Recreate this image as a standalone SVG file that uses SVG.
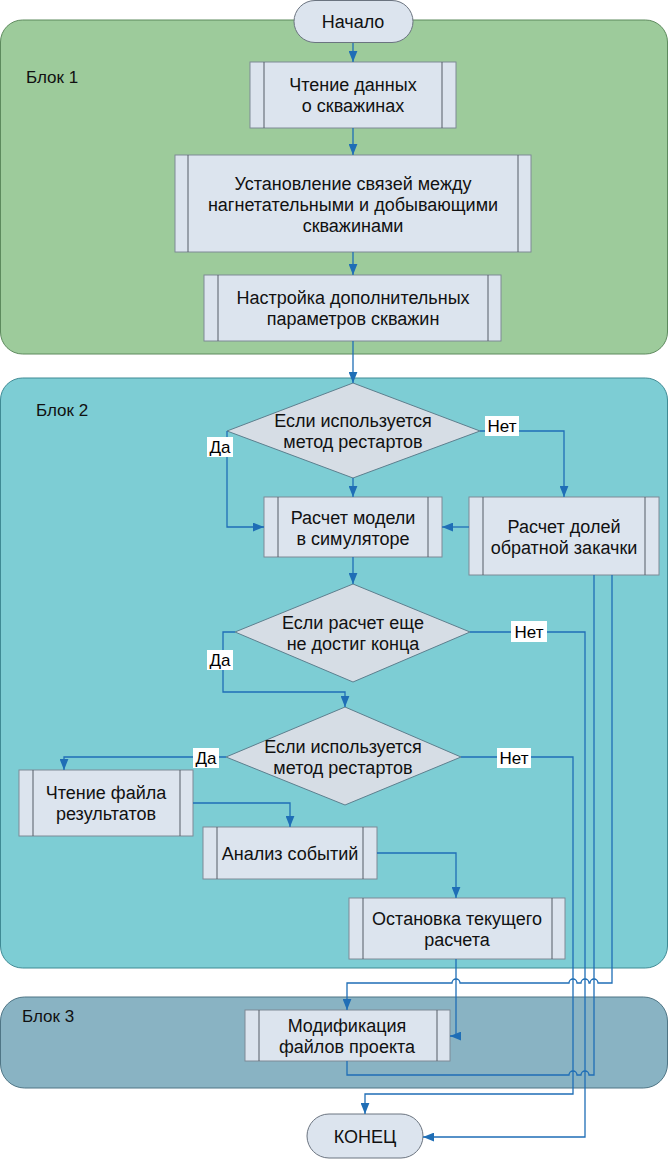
<svg xmlns="http://www.w3.org/2000/svg" width="669" height="1159" viewBox="0 0 669 1159">
<style>
.t{font-family:"Liberation Sans",Arial,sans-serif;font-size:18px;fill:#111;text-anchor:middle}
.bl{font-family:"Liberation Sans",Arial,sans-serif;font-size:17px;fill:#111}
.lb{font-family:"Liberation Sans",Arial,sans-serif;font-size:17px;fill:#000;text-anchor:middle}
.box{fill:#dce4ee;stroke:#7f8a96;stroke-width:1}
.in{stroke:#555d66;stroke-width:1}
.dia{fill:#d6dde5;stroke:#5d7f8e;stroke-width:1}
.term{fill:#dce4ee;stroke:#6b7480;stroke-width:1}
.c{fill:none;stroke:#1f6eb6;stroke-width:1.3}
.lbg{fill:#fff}
</style>
<defs>
<marker id="ah" viewBox="0 0 10 8" refX="10" refY="4" markerWidth="11" markerHeight="9" markerUnits="userSpaceOnUse" orient="auto">
<path d="M0,0 L10,4 L0,8 z" fill="#1f6eb6"/>
</marker>
</defs>

<g id="block1">
<rect x="0.5" y="20" width="667" height="334" rx="22" fill="#9dcb9b" stroke="#5d8a5d"/>
<text class="bl" x="26" y="83">Блок 1</text>
</g>
<g id="block2">
<rect x="0.5" y="378" width="667" height="590" rx="22" fill="#7dcdd4" stroke="#3f8a94"/>
<text class="bl" x="36" y="416">Блок 2</text>
</g>
<g id="block3">
<rect x="0.5" y="997" width="667" height="91" rx="24" fill="#89b3c3" stroke="#4f7585"/>
<text class="bl" x="22" y="1022">Блок 3</text>
</g>

<g id="start">
<rect class="term" x="294" y="0.5" width="119" height="42" rx="21"/>
<text class="t" x="353" y="28">Начало</text>
</g>
<g id="read_wells">
<rect class="box" x="250" y="62" width="206" height="66"/>
<line class="in" x1="264" y1="62" x2="264" y2="128"/><line class="in" x1="442" y1="62" x2="442" y2="128"/>
<text class="t" x="353" y="91">Чтение данных</text>
<text class="t" x="353" y="112">о скважинах</text>
</g>
<g id="links">
<rect class="box" x="175" y="155" width="356" height="97"/>
<line class="in" x1="188" y1="155" x2="188" y2="252"/><line class="in" x1="518" y1="155" x2="518" y2="252"/>
<text class="t" x="353" y="190">Установление связей между</text>
<text class="t" x="353" y="211">нагнетательными и добывающими</text>
<text class="t" x="353" y="232">скважинами</text>
</g>
<g id="params">
<rect class="box" x="204" y="275" width="297" height="66"/>
<line class="in" x1="218" y1="275" x2="218" y2="341"/><line class="in" x1="488" y1="275" x2="488" y2="341"/>
<text class="t" x="353" y="304">Настройка дополнительных</text>
<text class="t" x="353" y="325">параметров скважин</text>
</g>
<g id="dec1">
<polygon class="dia" points="353,383 480,431 353,478 227,431"/>
<text class="t" x="353" y="427">Если используется</text>
<text class="t" x="353" y="448">метод рестартов</text>
</g>
<g id="simulate">
<rect class="box" x="264" y="497" width="178" height="60"/>
<line class="in" x1="278" y1="497" x2="278" y2="557"/><line class="in" x1="428" y1="497" x2="428" y2="557"/>
<text class="t" x="353" y="524">Расчет модели</text>
<text class="t" x="353" y="545">в симуляторе</text>
</g>
<g id="fractions">
<rect class="box" x="469" y="497" width="190" height="78"/>
<line class="in" x1="483" y1="497" x2="483" y2="575"/><line class="in" x1="645" y1="497" x2="645" y2="575"/>
<text class="t" x="564" y="533">Расчет долей</text>
<text class="t" x="564" y="554">обратной закачки</text>
</g>
<g id="dec2">
<polygon class="dia" points="353,584 470,632 353,682 235,632"/>
<text class="t" x="353" y="629">Если расчет еще</text>
<text class="t" x="353" y="650">не достиг конца</text>
</g>
<g id="dec3">
<polygon class="dia" points="345,707 461,757 345,805 226,757"/>
<text class="t" x="343" y="753">Если используется</text>
<text class="t" x="343" y="774">метод рестартов</text>
</g>
<g id="readres">
<rect class="box" x="19" y="770" width="174" height="66"/>
<line class="in" x1="33" y1="770" x2="33" y2="836"/><line class="in" x1="180" y1="770" x2="180" y2="836"/>
<text class="t" x="106" y="799">Чтение файла</text>
<text class="t" x="106" y="820">результатов</text>
</g>
<g id="analysis">
<rect class="box" x="203" y="827" width="174" height="52"/>
<line class="in" x1="217" y1="827" x2="217" y2="879"/><line class="in" x1="363" y1="827" x2="363" y2="879"/>
<text class="t" x="290" y="860">Анализ событий</text>
</g>
<g id="stop">
<rect class="box" x="349" y="898" width="216" height="61"/>
<line class="in" x1="363" y1="898" x2="363" y2="959"/><line class="in" x1="552" y1="898" x2="552" y2="959"/>
<text class="t" x="457" y="925">Остановка текущего</text>
<text class="t" x="457" y="946">расчета</text>
</g>
<g id="modify">
<rect class="box" x="245" y="1010" width="205" height="51"/>
<line class="in" x1="259" y1="1010" x2="259" y2="1061"/><line class="in" x1="437" y1="1010" x2="437" y2="1061"/>
<text class="t" x="347" y="1032">Модификация</text>
<text class="t" x="347" y="1053">файлов проекта</text>
</g>
<g id="end">
<rect class="term" x="307" y="1114" width="116" height="44" rx="22"/>
<text class="t" x="365" y="1143">КОНЕЦ</text>
</g>

<g id="connectors">
<path class="c" d="M353,43 V62" marker-end="url(#ah)"/>
<path class="c" d="M353,128 V155" marker-end="url(#ah)"/>
<path class="c" d="M353,252 V275" marker-end="url(#ah)"/>
<path class="c" d="M353,341 V383" marker-end="url(#ah)"/>
<path class="c" d="M227,431 V527 H264" marker-end="url(#ah)"/>
<path class="c" d="M480,431 H564 V497" marker-end="url(#ah)"/>
<path class="c" d="M353,478 V497" marker-end="url(#ah)"/>
<path class="c" d="M469,527 H442" marker-end="url(#ah)"/>
<path class="c" d="M353,557 V584" marker-end="url(#ah)"/>
<path class="c" d="M235,632 H223 V692 H345 V707" marker-end="url(#ah)"/>
<path class="c" d="M470,632 H585 V1137 H423" marker-end="url(#ah)"/>
<path class="c" d="M226,757 H64 V770" marker-end="url(#ah)"/>
<path class="c" d="M461,757 H573 V1094 H365 V1114" marker-end="url(#ah)"/>
<path class="c" d="M193,803 H290 V827" marker-end="url(#ah)"/>
<path class="c" d="M377,853 H456 V898" marker-end="url(#ah)"/>
<path class="c" d="M456,959 V1036 H450" marker-end="url(#ah)"/>
<path class="c" d="M612,575 V983 H598 a4,4 0 0 0 -8,0 H589 a4,4 0 0 0 -8,0 H577 a4,4 0 0 0 -8,0 H460 a4,4 0 0 0 -8,0 H347 V1010" marker-end="url(#ah)"/>
<path class="c" d="M347,1061 V1075 H569 a4,4 0 0 1 8,0 H581 a4,4 0 0 1 8,0 H594 V575"/>
<rect class="lbg" x="207" y="437" width="26" height="20"/><text class="lb" x="220" y="453">Да</text>
<rect class="lbg" x="485" y="416" width="34" height="20"/><text class="lb" x="502" y="432">Нет</text>
<rect class="lbg" x="207" y="650" width="26" height="20"/><text class="lb" x="220" y="666">Да</text>
<rect class="lbg" x="511" y="621" width="36" height="21"/><text class="lb" x="529" y="638">Нет</text>
<rect class="lbg" x="193" y="748" width="26" height="20"/><text class="lb" x="206" y="764">Да</text>
<rect class="lbg" x="497" y="748" width="34" height="20"/><text class="lb" x="514" y="764">Нет</text>
</g>
</svg>
